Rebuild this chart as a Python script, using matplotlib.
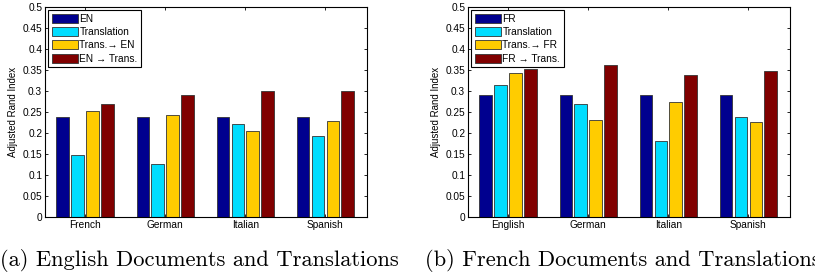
import numpy as np
import matplotlib.pyplot as plt

# panel (a): English documents
cats_a = ['French', 'German', 'Italian', 'Spanish']
en = [0.238, 0.238, 0.238, 0.238]
trans_a = [0.148, 0.127, 0.221, 0.193]
trans_to_en = [0.253, 0.243, 0.205, 0.229]
en_to_trans = [0.270, 0.290, 0.300, 0.300]
labels_a = ['EN', 'Translation', 'Trans.→ EN', 'EN → Trans.']

# panel (b): French documents
cats_b = ['English', 'German', 'Italian', 'Spanish']
fr = [0.290, 0.290, 0.290, 0.290]
trans_b = [0.314, 0.269, 0.180, 0.239]
trans_to_fr = [0.343, 0.232, 0.273, 0.227]
fr_to_trans = [0.352, 0.361, 0.338, 0.347]
labels_b = ['FR', 'Translation', 'Trans.→ FR', 'FR → Trans.']

colors = ['#00008F', '#00DDFF', '#FFCC00', '#800000']

plt.rcParams['font.family'] = ['Liberation Sans', 'DejaVu Sans']

fig = plt.figure(figsize=(8.15, 2.77), dpi=100)
W, H = 815, 277


def panel(left, cats, series, labels):
    ax = fig.add_axes([left / W, 1 - 217 / H, 322 / W, 210 / H])
    x = np.arange(1, len(cats) + 1)
    step = 0.186
    for k, (vals, lab) in enumerate(zip(series, labels)):
        ax.bar(x + (k - 1.5) * step, vals, width=0.155, color=colors[k],
               edgecolor='#333333', linewidth=0.6, label=lab)
    ax.set_xlim(0.5, 4.52)
    ax.set_ylim(0, 0.5)
    ax.set_yticks(np.arange(0, 0.51, 0.05))
    ax.set_yticklabels(['0'] + ['%g' % v for v in np.arange(0.05, 0.51, 0.05)])
    ax.set_xticks(x)
    ax.set_xticklabels(cats)
    ax.tick_params(direction='in', length=2.5, width=0.6, labelsize=7.3,
                   top=True, right=True, pad=2)
    for s in ax.spines.values():
        s.set_linewidth(0.8)
    ax.set_ylabel('Adjusted Rand Index', fontsize=7, labelpad=3)
    leg = ax.legend(loc='upper left', fontsize=7.3, fancybox=False,
                    edgecolor='black', framealpha=1, handlelength=2.6,
                    handleheight=1.0, labelspacing=0.33, borderpad=0.35,
                    handletextpad=0.15, borderaxespad=0.3)
    leg.get_frame().set_linewidth(0.8)
    return ax


panel(45, cats_a, [en, trans_a, trans_to_en, en_to_trans], labels_a)
panel(468, cats_b, [fr, trans_b, trans_to_fr, fr_to_trans], labels_b)

fig.text(0 / W, 1 - 261 / H, '(a) English Documents and Translations',
         family='cmr10', fontsize=16.2, ha='left', va='center')
fig.text(425 / W, 1 - 261 / H, '(b) French Documents and Translations',
         family='cmr10', fontsize=16.2, ha='left', va='center')

fig.savefig('out.png', dpi=100)
